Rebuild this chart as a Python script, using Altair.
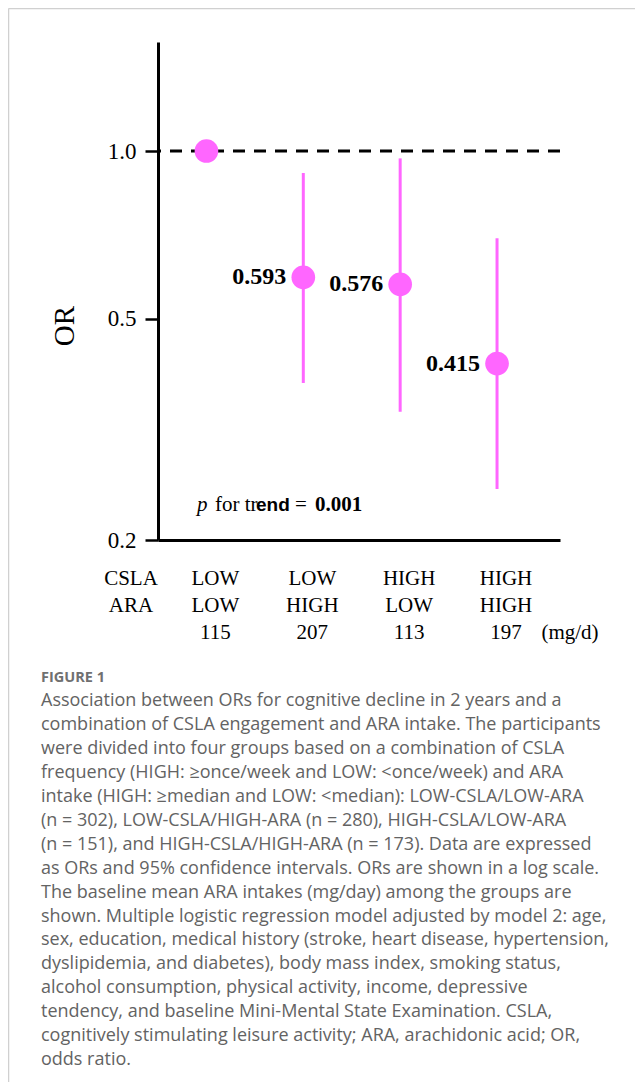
import altair as alt
import pandas as pd

# ---- data ----
groups = [1, 2, 3, 4]
csla = ["LOW", "LOW", "HIGH", "HIGH"]
ara = ["LOW", "HIGH", "LOW", "HIGH"]
intake = ["115", "207", "113", "197"]
or_values = [1.0, 0.593, 0.576, 0.415]
ci_low = [None, 0.383, 0.340, 0.247]
ci_high = [None, 0.913, 0.970, 0.697]
or_labels = ["", "0.593", "0.576", "0.415"]
y_ticks = [0.2, 0.5, 1.0]
reference_or = [1.0]

caption_lines = [
    "Association between ORs for cognitive decline in 2 years and a",
    "combination of CSLA engagement and ARA intake. The participants",
    "were divided into four groups based on a combination of CSLA",
    "frequency (HIGH: \u2265once/week and LOW: <once/week) and ARA",
    "intake (HIGH: \u2265median and LOW: <median): LOW-CSLA/LOW-ARA",
    "(n = 302), LOW-CSLA/HIGH-ARA (n = 280), HIGH-CSLA/LOW-ARA",
    "(n = 151), and HIGH-CSLA/HIGH-ARA (n = 173). Data are expressed",
    "as ORs and 95% confidence intervals. ORs are shown in a log scale.",
    "The baseline mean ARA intakes (mg/day) among the groups are",
    "shown. Multiple logistic regression model adjusted by model 2: age,",
    "sex, education, medical history (stroke, heart disease, hypertension,",
    "dyslipidemia, and diabetes), body mass index, smoking status,",
    "alcohol consumption, physical activity, income, depressive",
    "tendency, and baseline Mini-Mental State Examination. CSLA,",
    "cognitively stimulating leisure activity; ARA, arachidonic acid; OR,",
    "odds ratio.",
]

df = pd.DataFrame({"g": groups, "csla": csla, "ara": ara, "intake": intake,
                   "or": or_values, "lo": ci_low, "hi": ci_high, "lab": or_labels})
df_ci = df.dropna(subset=["lo"])
df_lab = df[df["lab"] != ""]
df_ref = pd.DataFrame({"v": reference_or})
one = pd.DataFrame({"a": [0]})

SERIF = "Liberation Serif"
PINK = "#ff66ff"

xs = alt.Scale(domain=[0.5, 4.65], nice=False, zero=False)
ys = alt.Scale(type="log", domain=[0.2, 1.57], nice=False)

xaxis = alt.Axis(labels=False, ticks=False, grid=False, title=None,
                 domainColor="black", domainWidth=3)
yaxis = alt.Axis(values=y_ticks, format=".1f", grid=False, title=None,
                 domainColor="black", domainWidth=3,
                 tickColor="black", tickWidth=2.5, tickSize=13,
                 labelFont=SERIF, labelFontSize=23, labelColor="black",
                 labelPadding=9)

X = alt.X("g:Q", scale=xs, axis=xaxis)

ref = alt.Chart(df_ref).mark_rule(color="black", strokeWidth=3, strokeDash=[12, 9]).encode(
    y=alt.Y("v:Q", scale=ys, axis=yaxis)
)

ci = alt.Chart(df_ci).mark_rule(color=PINK, strokeWidth=3).encode(
    x=X, y=alt.Y("lo:Q", scale=ys, axis=yaxis), y2="hi:Q"
)

pts = alt.Chart(df).mark_circle(color=PINK, opacity=1, size=560).encode(
    x=X, y=alt.Y("or:Q", scale=ys, axis=yaxis)
)

labs = alt.Chart(df_lab).mark_text(font=SERIF, fontSize=24, fontWeight="bold",
                                   align="right", baseline="middle", dx=-17, color="black").encode(
    x=X, y=alt.Y("or:Q", scale=ys, axis=yaxis), text="lab:N"
)

def row(field, yv):
    return alt.Chart(df).mark_text(font=SERIF, fontSize=21, align="center",
                                   baseline="middle", dx=9, color="black").encode(
        x=X, y=alt.value(yv), text=f"{field}:N")

row_csla = row("csla", 537)
row_ara = row("ara", 564)
row_int = row("intake", 591)

def txt(s, x, y, **kw):
    base = dict(font=SERIF, fontSize=21, align="left", baseline="middle", color="black")
    base.update(kw)
    return alt.Chart(one).mark_text(text=s, **base).encode(x=alt.value(x), y=alt.value(y))

row_heads = [
    txt("CSLA", -27, 537, align="center"),
    txt("ARA", -27, 564, align="center"),
    txt("(mg/d)", 412, 591, align="center"),
]

ptrend = [
    txt("p", 39, 463, fontStyle="italic"),
    txt("for tr", 57, 463),
    txt("end", 98, 463, font="Liberation Sans", fontSize=19, fontWeight="bold"),
    txt("=", 137, 463),
    txt("0.001", 157, 463, fontWeight="bold"),
]

or_title = txt("OR", -93, 284, align="center", fontSize=29, angle=270)

fig_label = txt("FIGURE 1", -117, 636, font="Open Sans", fontSize=14.5,
                fontWeight="bold", color="#707070")

caption = alt.Chart(one).mark_text(
    text="\n".join(caption_lines), lineBreak="\n", lineHeight=23.95,
    font="Open Sans", fontSize=18, align="left", baseline="top", color="#636363"
).encode(x=alt.value(-117), y=alt.value(650))

border_top = alt.Chart(one).mark_rule(color="#d0d0d0", strokeWidth=1.5).encode(
    x=alt.value(-149.5), x2=alt.value(477), y=alt.value(-33.5))
border_left = alt.Chart(one).mark_rule(color="#d0d0d0", strokeWidth=1.5).encode(
    x=alt.value(-149.5), y=alt.value(-33.5), y2=alt.value(1040))

chart = alt.layer(
    border_top, border_left, ref, ci, pts, labs, row_csla, row_ara, row_int,
    *row_heads, *ptrend, or_title, fig_label, caption
).properties(
    width=402, height=498,
    autosize=alt.AutoSizeParams(type="none"),
    padding={"left": 150, "top": 34, "right": 75, "bottom": 542},
).configure_view(stroke=None)

chart.save("out.html", embed_options={"renderer": "svg", "actions": False})
